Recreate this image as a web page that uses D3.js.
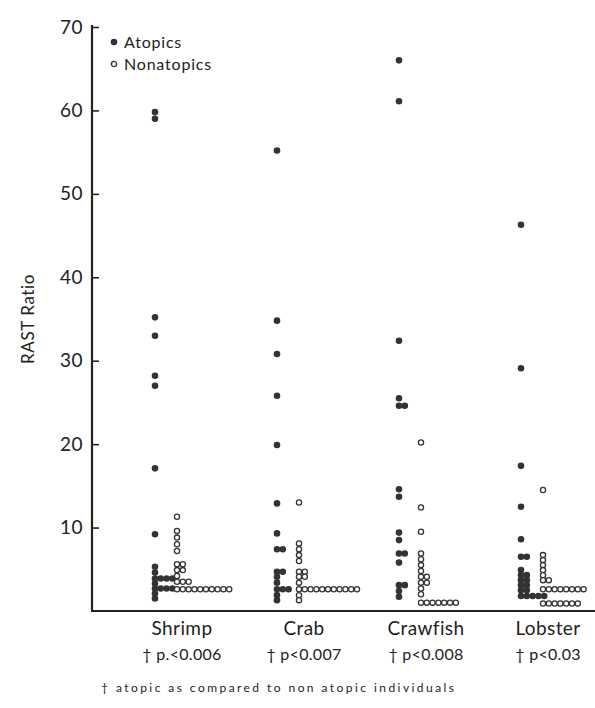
<!DOCTYPE html>
<html>
<head>
<meta charset="utf-8">
<script src="https://cdn.jsdelivr.net/npm/d3@7"></script>
<style>
  body { margin: 0; background: #fff; }
  svg text { font-family: Lato, "DejaVu Sans", sans-serif; fill: #222; }
</style>
</head>
<body>
<div class="graph-container"></div>
<script>
// chart data
const categories = ['Shrimp', 'Crab', 'Crawfish', 'Lobster'];
const pLabels = ['\u2020 p.<0.006', '\u2020 p<0.007', '\u2020 p<0.008', '\u2020 p<0.03'];
const yTicks = [10, 20, 30, 40, 50, 60, 70];

const shrimpAtopic = [59.8, 59.0, 35.2, 33.0, 28.2, 27.0, 17.1, 9.2, 5.3, 4.6, 3.9, 3.9, 3.9, 3.9, 3.3, 2.7, 2.7, 2.7, 2.7, 2.1, 1.5];
const shrimpNonatopic = [11.3, 9.6, 8.8, 8.0, 7.2, 5.6, 5.6, 4.9, 4.9, 4.2, 3.5, 3.5, 3.5, 2.6, 2.6, 2.6, 2.6, 2.6, 2.6, 2.6, 2.6, 2.6, 2.6];
const crabAtopic = [55.2, 34.8, 30.8, 25.8, 19.9, 12.9, 9.3, 7.4, 7.4, 4.7, 4.7, 4.1, 3.4, 2.6, 2.6, 2.6, 1.9, 1.3];
const crabNonatopic = [13.0, 8.1, 7.4, 6.7, 6.0, 4.7, 4.7, 4.1, 4.1, 3.4, 2.6, 2.6, 2.6, 2.6, 2.6, 2.6, 2.6, 2.6, 2.6, 2.6, 2.6, 1.9, 1.3];
const crawfishAtopic = [66.0, 61.1, 32.4, 25.5, 24.6, 24.6, 14.6, 13.7, 9.4, 8.5, 6.9, 6.9, 5.8, 3.1, 3.1, 2.4, 1.7];
const crawfishNonatopic = [20.2, 12.4, 9.5, 6.9, 6.2, 5.5, 4.8, 4.1, 4.1, 3.4, 3.4, 2.7, 2.0, 1.0, 1.0, 1.0, 1.0, 1.0, 1.0, 1.0];
const lobsterAtopic = [46.3, 29.1, 17.4, 12.5, 8.6, 6.5, 6.5, 4.9, 4.3, 4.3, 3.7, 3.7, 3.1, 3.1, 2.5, 2.5, 1.8, 1.8, 1.8, 1.8, 1.8];
const lobsterNonatopic = [14.5, 6.7, 6.1, 5.5, 4.9, 4.3, 3.7, 3.7, 2.6, 2.6, 2.6, 2.6, 2.6, 2.6, 2.6, 2.6, 0.9, 0.9, 0.9, 0.9, 0.9, 0.9, 0.9];

const atopic = [shrimpAtopic, crabAtopic, crawfishAtopic, lobsterAtopic];
const nonatopic = [shrimpNonatopic, crabNonatopic, crawfishNonatopic, lobsterNonatopic];

// svg parameters
const w = 595;
const h = 708;
const axisX = 92;
const baseY = 611;
const dotStep = 5.8;
const nonOffset = 22;

const svg = d3.select('.graph-container')
  .append('svg')
  .attr('width', w)
  .attr('height', h);

// scales
const yScale = d3.scaleLinear([0, 70], [baseY, 27]);
const xScale = d3.scalePoint(categories, [155, 521]);

// turn a list of values into dots, ties laid side by side
function layout(values, cat, offset) {
  const rows = d3.group(values, (v) => v.toFixed(1));
  const out = [];
  for (const [, vals] of rows) {
    vals.forEach((v, i) => {
      out.push({ x: xScale(cat) + offset + i * dotStep, y: yScale(v) });
    });
  }
  return out;
}

const filled = categories.flatMap((c, i) => layout(atopic[i], c, 0));
const open = categories.flatMap((c, i) => layout(nonatopic[i], c, nonOffset));

// y axis
const yAxis = d3.axisLeft(yScale)
  .tickValues(yTicks)
  .tickSizeInner(-7)
  .tickSizeOuter(0)
  .tickPadding(9);

const yg = svg.append('g')
  .attr('transform', `translate(${axisX},0)`)
  .call(yAxis);
yg.select('.domain')
  .attr('d', `M0,${yScale(70) - 2}V${baseY}`)
  .attr('stroke', '#222').attr('stroke-width', 2.2);
yg.selectAll('.tick line').attr('stroke', '#222').attr('stroke-width', 1.6);
yg.selectAll('.tick text')
  .style('font-size', '19px')
  .style('letter-spacing', '0.5px')
  .attr('fill', '#333');

// x axis line
svg.append('line')
  .attr('x1', axisX - 1).attr('x2', w)
  .attr('y1', baseY).attr('y2', baseY)
  .attr('stroke', '#222').attr('stroke-width', 2.2);

// y label
svg.append('text')
  .attr('transform', 'translate(34,319) rotate(-90)')
  .attr('text-anchor', 'middle')
  .style('font-size', '17px')
  .style('letter-spacing', '0.6px')
  .text('RAST Ratio');

// dots
svg.append('g').selectAll('circle')
  .data(filled)
  .enter()
  .append('circle')
  .attr('cx', (d) => d.x)
  .attr('cy', (d) => d.y)
  .attr('r', 3.3)
  .attr('fill', '#333');

svg.append('g').selectAll('circle')
  .data(open)
  .enter()
  .append('circle')
  .attr('cx', (d) => d.x)
  .attr('cy', (d) => d.y)
  .attr('r', 2.6)
  .attr('fill', '#fff')
  .attr('stroke', '#333')
  .attr('stroke-width', 1.3);

// category labels
const labels = svg.append('g');
labels.selectAll('.cat')
  .data(categories)
  .enter()
  .append('text')
  .attr('class', 'cat')
  .attr('x', (d) => xScale(d) + 27)
  .attr('y', 635)
  .attr('text-anchor', 'middle')
  .style('font-size', '19px')
  .style('letter-spacing', '0.4px')
  .text((d) => d);

labels.selectAll('.pval')
  .data(pLabels)
  .enter()
  .append('text')
  .attr('class', 'pval')
  .attr('x', (d, i) => xScale(categories[i]) + 27)
  .attr('y', 660)
  .attr('text-anchor', 'middle')
  .style('font-size', '16px')
  .style('letter-spacing', '0.3px')
  .text((d) => d);

// footnote
svg.append('text')
  .attr('x', 101)
  .attr('y', 692)
  .attr('textLength', 353)
  .attr('lengthAdjust', 'spacing')
  .style('font-size', '12px')
  .text('\u2020 atopic as compared to non atopic individuals');

// legend
const legend = svg.append('g').attr('transform', 'translate(114,42)');
legend.append('circle').attr('r', 3.3).attr('fill', '#333');
legend.append('text').attr('x', 10).attr('y', 6)
  .style('font-size', '16px').style('letter-spacing', '0.8px').text('Atopics');
legend.append('circle').attr('cy', 22).attr('r', 2.6)
  .attr('fill', '#fff').attr('stroke', '#333').attr('stroke-width', 1.3);
legend.append('text').attr('x', 10).attr('y', 28)
  .style('font-size', '16px').style('letter-spacing', '0.8px').text('Nonatopics');
</script>
</body>
</html>
